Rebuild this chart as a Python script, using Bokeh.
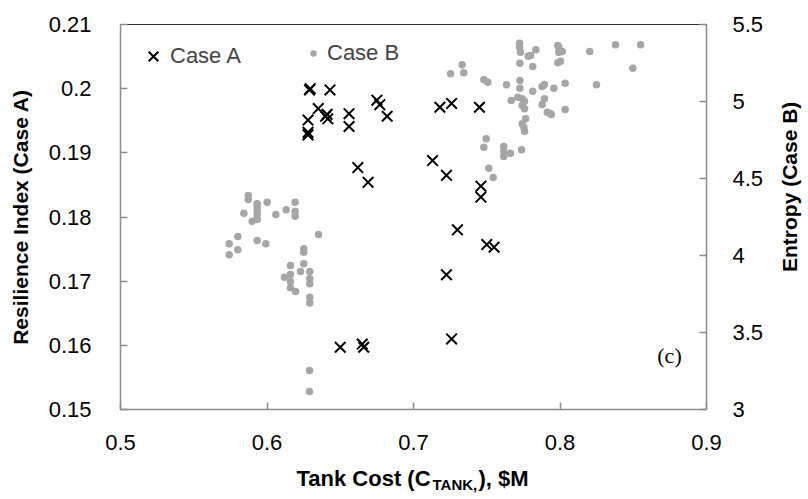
import math
from bokeh.plotting import figure
from bokeh.layouts import column, row
from bokeh.models import (Range1d, LinearAxis, FixedTicker, CustomJSTickFormatter,
                          Label, Legend, LegendItem)
from bokeh.core.properties import value
from bokeh.embed import file_html
from bokeh.resources import INLINE

# ---------------- data ----------------
caseA_cost = [0.629, 0.6295, 0.643, 0.635, 0.640, 0.6415, 0.641, 0.628, 0.628, 0.628,
              0.656, 0.656, 0.675, 0.677, 0.682, 0.718, 0.726, 0.745, 0.662, 0.669,
              0.713, 0.7225, 0.746, 0.746, 0.730, 0.750, 0.755, 0.7225, 0.726, 0.650,
              0.665, 0.666]
caseA_res = [0.1998, 0.2000, 0.1998, 0.1969, 0.1957, 0.1953, 0.1960, 0.1951, 0.1932, 0.1928,
             0.1961, 0.1941, 0.1982, 0.1975, 0.1957, 0.1971, 0.1977, 0.1971, 0.1877, 0.1854,
             0.1888, 0.1865, 0.1848, 0.1831, 0.1780, 0.1757, 0.1753, 0.1710, 0.1610, 0.1597,
             0.1602, 0.1597]

caseB_cost = [0.5872, 0.5872, 0.5933, 0.5933, 0.5933, 0.5933, 0.5933, 0.5899, 0.6001, 0.5842,
              0.6060, 0.6131, 0.6192, 0.6192, 0.6192, 0.5801, 0.5742, 0.5801, 0.5742, 0.5933,
              0.5992, 0.6352, 0.6251, 0.6251, 0.6251, 0.6160, 0.6160, 0.6119, 0.6160, 0.6160,
              0.6195, 0.6229, 0.6292, 0.6292, 0.6292, 0.6292, 0.6292, 0.6290, 0.6290,
              0.7253, 0.7332, 0.7343, 0.7480, 0.7507, 0.7635, 0.7724, 0.7724, 0.7730, 0.7783,
              0.7835, 0.7726, 0.7814, 0.7992, 0.7992, 0.7985, 0.8003, 0.7726, 0.7726, 0.7814,
              0.7894, 0.7878, 0.7958, 0.7667, 0.7712, 0.7742, 0.7758, 0.7742, 0.7758, 0.7894,
              0.7878, 0.7913, 0.7935, 0.7765, 0.7742, 0.7753, 0.7758, 0.7496, 0.7480, 0.7616,
              0.7616, 0.7616, 0.7662, 0.7737, 0.7514, 0.7544, 0.7799, 0.7985, 0.8015, 0.8203,
              0.8379, 0.8550, 0.8497, 0.8035, 0.8249, 0.7940, 0.8035]
caseB_ent = [4.390, 4.364, 4.336, 4.314, 4.288, 4.260, 4.234, 4.223, 4.346, 4.275,
             4.266, 4.297, 4.346, 4.288, 4.255, 4.123, 4.076, 4.037, 4.005, 4.097,
             4.076, 4.136, 4.044, 4.021, 3.946, 3.935, 3.877, 3.859, 3.831, 3.790,
             3.766, 3.896, 3.896, 3.849, 3.816, 3.729, 3.692, 3.253, 3.117,
             5.180, 5.238, 5.186, 5.141, 5.125, 5.108, 5.379, 5.353, 5.320, 5.294,
             5.336, 5.249, 5.227, 5.353, 5.320, 5.251, 5.262, 5.136, 5.086, 5.067,
             5.110, 5.097, 5.086, 5.006, 5.028, 5.018, 5.002, 4.974, 4.953, 5.018,
             4.981, 4.931, 4.920, 4.888, 4.855, 4.833, 4.807, 4.758, 4.703, 4.708,
             4.677, 4.643, 4.664, 4.686, 4.567, 4.506, 5.299, 5.364, 5.325, 5.325,
             5.368, 5.368, 5.216, 5.119, 5.108, 4.916, 4.948]

x_ticks = [0.5, 0.6, 0.7, 0.8, 0.9]
res_ticks = [0.15, 0.16, 0.17, 0.18, 0.19, 0.20, 0.21]
ent_ticks = [3.0, 3.5, 4.0, 4.5, 5.0, 5.5]

x_title_parts = ["Tank Cost (C", "TANK,", "), $M"]
y2_title = "Entropy (Case B)"

FONT = "Liberation Sans"
AXIS_GRAY = "#8c8c8c"
DOT_GRAY = "#a6a6a6"

p = figure(width=770, height=462, output_backend="svg", toolbar_location=None,
           x_range=Range1d(0.5, 0.9), y_range=Range1d(0.15, 0.21),
           min_border_left=120, min_border_right=64, min_border_top=24, min_border_bottom=53)
p.extra_y_ranges = {"ent": Range1d(3.0, 5.5)}
p.xgrid.visible = False
p.ygrid.visible = False
p.outline_line_color = "#303030"
p.outline_line_width = 1
p.background_fill_color = "white"
p.border_fill_color = "white"

fmt = CustomJSTickFormatter(code="return String(parseFloat(tick.toFixed(3)));")

def style_axis(ax, standoff):
    ax.axis_line_color = AXIS_GRAY
    ax.axis_line_width = 1.5
    ax.major_tick_line_color = AXIS_GRAY
    ax.major_tick_line_width = 1.5
    ax.major_tick_in = 7
    ax.major_tick_out = 0
    ax.minor_tick_line_color = None
    ax.major_label_text_font = FONT
    ax.major_label_text_font_size = "22px"
    ax.major_label_text_color = "black"
    ax.major_label_standoff = standoff
    ax.formatter = fmt

p.xaxis.ticker = FixedTicker(ticks=x_ticks)
style_axis(p.xaxis[0], 25)
p.yaxis.ticker = FixedTicker(ticks=res_ticks)
style_axis(p.yaxis[0], 29)
p.yaxis.axis_label = "Resilience Index (Case A)"
p.yaxis.axis_label_text_font = FONT
p.yaxis.axis_label_text_font_style = "bold"
p.yaxis.axis_label_text_font_size = "21px"
p.yaxis.axis_label_text_color = "black"
p.yaxis.axis_label_standoff = 14

rax = LinearAxis(y_range_name="ent", ticker=FixedTicker(ticks=ent_ticks))
style_axis(rax, 26)
p.add_layout(rax, "right")

ra = p.scatter(caseA_cost, caseA_res, marker="x", size=15, line_color="black", line_width=2)
rb = p.scatter(caseB_cost, caseB_ent, y_range_name="ent", marker="circle", size=7.5,
               fill_color=DOT_GRAY, line_color=None)

legA = Legend(items=[LegendItem(label="Case A", renderers=[ra])], location=(16, 336),
              glyph_width=34, glyph_height=34, label_height=34, label_standoff=0,
              padding=0, margin=0, border_line_color=None, background_fill_alpha=0,
              label_text_font=FONT, label_text_font_size="22px")
legB = Legend(items=[LegendItem(label="Case B", renderers=[rb])], location=(185, 343),
              glyph_width=16, glyph_height=16, label_height=16, label_standoff=6,
              padding=0, margin=0, border_line_color=None, background_fill_alpha=0,
              label_text_font=FONT, label_text_font_size="22px")
p.add_layout(legA)
p.add_layout(legB)

# panel tag
p.add_layout(Label(text="(c)", x=0.9, y=0.15, x_offset=-37, y_offset=54,
                   text_align="center", text_baseline="middle",
                   text_font="Liberation Serif", text_font_size="22px", text_color="black"))

# x-axis title strip (main text + subscript), sharing the x scale of the chart
t = figure(width=770, height=37, output_backend="svg", toolbar_location=None,
           x_range=p.x_range, y_range=Range1d(0, 37),
           x_axis_type=None, y_axis_type=None, min_border=0)
t.outline_line_color = None
t.xgrid.visible = False
t.ygrid.visible = False
common = dict(text_font=value(FONT), text_font_style="bold", text_baseline="middle",
              text_align="left", text_color="black")
t.text(x=[0.7], y=[21], x_offset=-117, text=[x_title_parts[0]], text_font_size="22px", **common)
t.text(x=[0.7], y=[15], x_offset=19, text=[x_title_parts[1]], text_font_size="15px", **common)
t.text(x=[0.7], y=[21], x_offset=65, text=[x_title_parts[2]], text_font_size="22px", **common)

# right-axis title strip (reads bottom-to-top), sharing the y scale of the chart
r = figure(width=38, height=462, output_backend="svg", toolbar_location=None,
           x_range=Range1d(0, 38), y_range=p.y_range,
           x_axis_type=None, y_axis_type=None, min_border=0)
r.outline_line_color = None
r.xgrid.visible = False
r.ygrid.visible = False
r.text(x=[19], y=[0.1858], text=[y2_title], angle=math.pi / 2, text_font=value(FONT),
       text_font_style="bold", text_font_size="21px", text_baseline="middle",
       text_align="center", text_color="black")

layout = row(column(p, t, spacing=0), r, spacing=0)
open("out.html", "w").write(file_html(layout, INLINE))
